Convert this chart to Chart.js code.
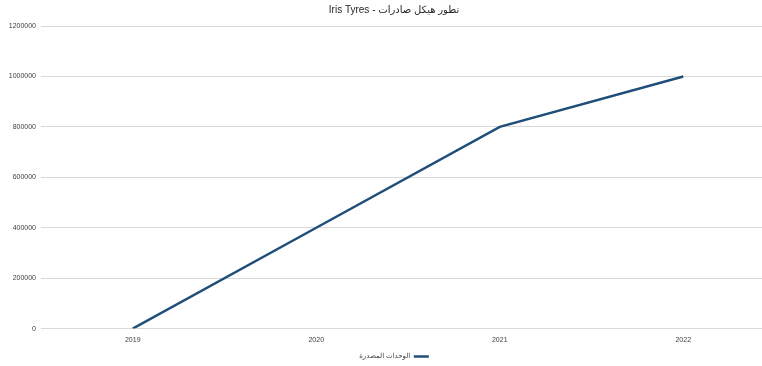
<!DOCTYPE html>
<html>
<head>
<meta charset="utf-8">
<script src="https://cdn.jsdelivr.net/npm/chart.js@4/dist/chart.umd.min.js"></script>
<style>
html,body{margin:0;padding:0;background:#fff;overflow:hidden;}
#wrap{width:788px;height:366px;}
</style>
</head>
<body>
<div id="wrap"><canvas id="c" width="788" height="366"></canvas></div>
<script>
const categories = ['2019', '2020', '2021', '2022'];
const exportedUnits = [0, 400000, 800000, 1000000];
const seriesName = 'الوحدات المصدرة';
const chartTitle = 'تطور هيكل صادرات - Iris Tyres';
const yTicks = [0, 200000, 400000, 600000, 800000, 1000000, 1200000];

const FONT = '"Liberation Sans", "DejaVu Sans", sans-serif';

new Chart(document.getElementById('c'), {
  type: 'line',
  data: {
    labels: categories,
    datasets: [{
      label: seriesName,
      data: exportedUnits,
      borderColor: '#1f4e79',
      backgroundColor: '#1f4e79',
      borderWidth: 2.5,
      pointRadius: 0,
      tension: 0,
      fill: false
    }]
  },
  options: {
    responsive: false,
    animation: false,
    devicePixelRatio: 1,
    layout: { padding: { left: 0, right: 0, top: 0, bottom: -4 } },
    plugins: {
      title: {
        display: true,
        text: '\u202B' + chartTitle + '\u202C',
        color: '#262626',
        font: { family: FONT, size: 10, weight: 'normal' },
        padding: { top: 4, bottom: 10 }
      },
      legend: {
        display: true,
        position: 'bottom',
        rtl: true,
        labels: {
          color: '#404040',
          font: { family: FONT, size: 7 },
          usePointStyle: true,
          pointStyle: 'line',
          pointStyleWidth: 15,
          boxHeight: 7,
          padding: 2
        }
      },
      tooltip: { enabled: false }
    },
    scales: {
      x: {
        offset: true,
        grid: { display: false, drawTicks: false },
        border: { display: false },
        ticks: { color: '#404040', font: { family: FONT, size: 7 }, padding: 7, maxRotation: 0 }
      },
      y: {
        min: 0,
        max: 1200000,
        afterBuildTicks: (s) => { s.ticks = yTicks.map(v => ({ value: v })); },
        afterFit: (s) => { s.width = 41; },
        grid: { color: '#d9d9d9', lineWidth: 1, drawTicks: false },
        border: { display: false },
        ticks: { color: '#404040', font: { family: FONT, size: 7 }, padding: 5, callback: (v) => String(v) }
      },
      yRightSpace: {
        position: 'right',
        display: true,
        min: 0,
        max: 1,
        afterFit: (s) => { s.width = 13; },
        grid: { display: false, drawTicks: false },
        border: { display: false },
        ticks: { display: false }
      }
    }
  }
});
</script>
</body>
</html>
